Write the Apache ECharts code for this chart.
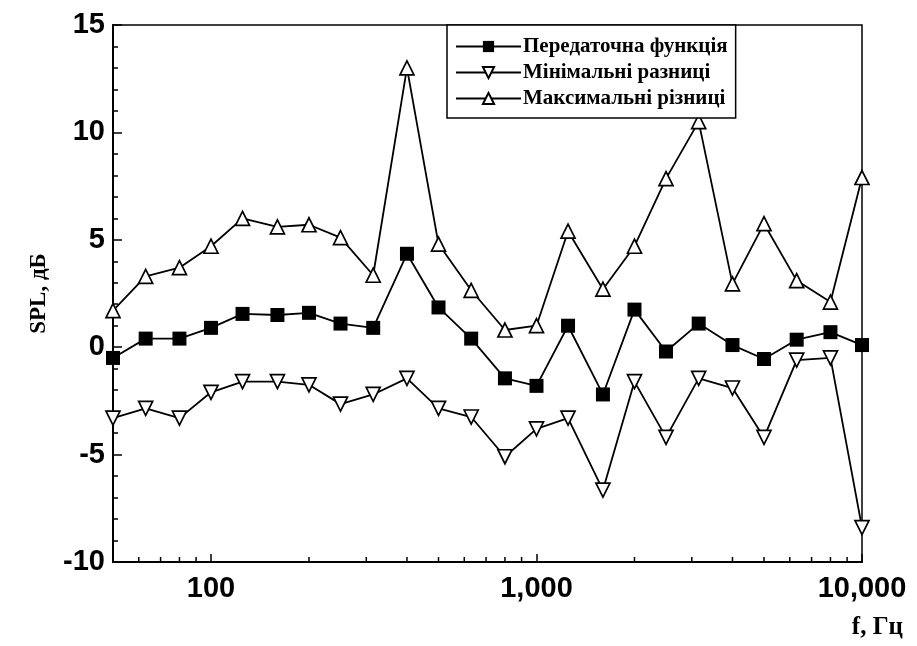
<!DOCTYPE html>
<html>
<head>
<meta charset="utf-8">
<script src="https://cdn.jsdelivr.net/npm/echarts@6/dist/echarts.min.js"></script>
<style>
  html, body { margin: 0; padding: 0; background: #fff; }
  #container { width: 917px; height: 646px; }
</style>
</head>
<body>
<div id="container"></div>
<script>
// third-octave frequencies, Hz
var freqs = [50, 63, 80, 100, 125, 160, 200, 250, 315, 400, 500, 630, 800, 1000,
             1250, 1600, 2000, 2500, 3150, 4000, 5000, 6300, 8000, 10000];

var seriesNames = ['Передаточна функція', 'Мінімальні разниці', 'Максимальні різниці'];

var transfer = [-0.5, 0.4, 0.4, 0.9, 1.55, 1.5, 1.6, 1.1, 0.9, 4.35, 1.85, 0.4,
                -1.45, -1.8, 1.0, -2.2, 1.75, -0.2, 1.1, 0.1, -0.55, 0.35, 0.7, 0.1];
var minDiff = [-3.3, -2.85, -3.3, -2.1, -1.6, -1.6, -1.75, -2.65, -2.2, -1.45, -2.85, -3.25,
               -5.1, -3.8, -3.3, -6.65, -1.6, -4.2, -1.45, -1.9, -4.2, -0.6, -0.5, -8.4];
var maxDiff = [1.7, 3.3, 3.7, 4.7, 6.0, 5.6, 5.7, 5.1, 3.35, 13.0, 4.8, 2.65,
               0.8, 1.0, 5.4, 2.7, 4.7, 7.85, 10.5, 2.95, 5.75, 3.1, 2.1, 7.9];

var xLabels = [100, 1000, 10000];
var xMinorTicks = [60, 70, 80, 90, 200, 300, 400, 500, 600, 700, 800, 900,
                   2000, 3000, 4000, 5000, 6000, 7000, 8000, 9000];

function pairs(vals) {
    return freqs.map(function (f, i) { return [f, vals[i]]; });
}

var dom = document.getElementById('container');
var myChart = echarts.init(dom);

var lineStyle = { color: '#000', width: 1.8 };
var openMarker = { color: '#fff', borderColor: '#000', borderWidth: 1.7 };

var option = {
    animation: false,
    backgroundColor: '#fff',
    grid: {
        left: 113, right: 55, top: 25, bottom: 84,
        show: true, borderColor: '#000', borderWidth: 1.5
    },
    legend: {
        data: seriesNames,
        orient: 'vertical',
        left: 447, top: 25,
        padding: [11, 8, 9, 8],
        itemGap: 5,
        itemWidth: 65, itemHeight: 14,
        backgroundColor: '#fff',
        borderColor: '#000', borderWidth: 1.5,
        textStyle: {
            fontFamily: 'Liberation Serif', fontWeight: 'bold',
            fontSize: 21, color: '#000', padding: [0, 0, 0, -3]
        }
    },
    xAxis: {
        type: 'log',
        logBase: 10,
        min: 50, max: 10000,
        axisLine: { onZero: false, lineStyle: { color: '#000', width: 2 } },
        axisTick: { inside: true, length: 8, lineStyle: { color: '#000', width: 1.5 } },
        splitLine: { show: false },
        axisLabel: {
            color: '#000', fontFamily: 'Liberation Sans', fontWeight: 'bold', fontSize: 29,
            margin: 12,
            formatter: function (v) {
                return xLabels.indexOf(Math.round(v)) >= 0 ? Math.round(v).toLocaleString('en-US') : '';
            }
        }
    },
    yAxis: {
        type: 'value',
        min: -10, max: 15, interval: 5,
        name: 'SPL, дБ',
        nameLocation: 'middle',
        nameGap: 62,
        nameTextStyle: {
            color: '#000', fontFamily: 'Liberation Serif', fontWeight: 'bold', fontSize: 23
        },
        axisLine: { show: true, lineStyle: { color: '#000', width: 2 } },
        axisTick: { inside: true, length: 9, lineStyle: { color: '#000', width: 1.5 } },
        minorTick: { show: true, splitNumber: 5, length: 5, lineStyle: { color: '#000', width: 1.5 } },
        splitLine: { show: false },
        axisLabel: {
            color: '#000', fontFamily: 'Liberation Sans', fontWeight: 'bold', fontSize: 29,
            margin: 8
        }
    },
    graphic: [{
        type: 'text',
        right: 14, top: 615,
        style: {
            text: 'f, Гц',
            fill: '#000',
            font: 'bold 25px "Liberation Serif"'
        }
    }],
    series: [
        {
            name: seriesNames[0],
            type: 'line',
            data: pairs(transfer),
            symbol: 'rect',
            symbolSize: 14,
            lineStyle: lineStyle,
            itemStyle: { color: '#000' },
            z: 4
        },
        {
            name: seriesNames[1],
            type: 'line',
            data: pairs(minDiff),
            symbol: 'triangle',
            symbolRotate: 180,
            symbolSize: 14,
            lineStyle: lineStyle,
            itemStyle: openMarker,
            z: 3
        },
        {
            name: seriesNames[2],
            type: 'line',
            data: pairs(maxDiff),
            symbol: 'triangle',
            symbolSize: 14,
            lineStyle: lineStyle,
            itemStyle: openMarker,
            z: 3
        },
        {
            // minor ticks of the log axis
            type: 'custom',
            silent: true,
            data: xMinorTicks.map(function (f) { return [f, -10]; }),
            renderItem: function (params, api) {
                var p = api.coord([api.value(0), api.value(1)]);
                return {
                    type: 'line',
                    shape: { x1: p[0], y1: p[1], x2: p[0], y2: p[1] - 5 },
                    style: { stroke: '#000', lineWidth: 1.5 }
                };
            },
            z: 1
        }
    ]
};
myChart.setOption(option, true);
</script>
</body>
</html>
